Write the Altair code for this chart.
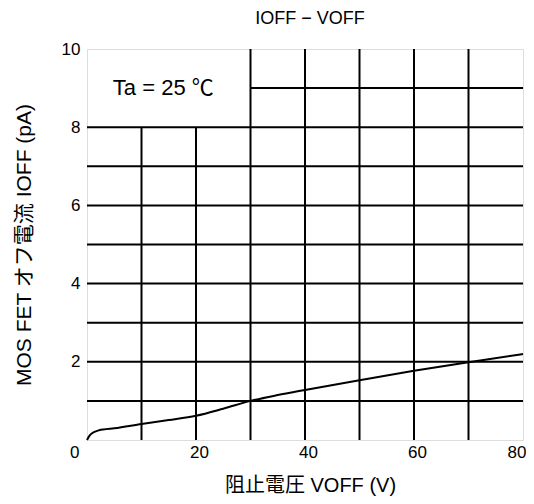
import altair as alt
import pandas as pd

# Curve data
v_off = [0, 0.5, 1, 2, 3, 5, 10, 15, 20, 25, 30, 35, 40, 50, 60, 70, 80]
i_off = [0, 0.12, 0.18, 0.24, 0.27, 0.30, 0.41, 0.51, 0.62, 0.80, 1.00, 1.15, 1.28, 1.53, 1.77, 1.99, 2.20]

x_ticks = [0, 20, 40, 60, 80]
y_ticks = [2, 4, 6, 8, 10]

# grid lines (data units)
vgrid_x = [10, 20, 30, 40, 50, 60, 70]
vgrid_top = [8, 8, 10, 10, 10, 10, 10]
hgrid_y = [1, 2, 3, 4, 5, 6, 7, 8, 9]
hgrid_left = [0, 0, 0, 0, 0, 0, 0, 0, 30]

box_text = ["Ta = 25 ℃"]

FONT = "Liberation Sans, Arial, Noto Sans CJK JP"

curve = pd.DataFrame({"v": v_off, "i": i_off})
vg = pd.DataFrame({"x": vgrid_x, "y": [0] * len(vgrid_x), "y2": vgrid_top})
hg = pd.DataFrame({"y": hgrid_y, "x": hgrid_left, "x2": [80] * len(hgrid_y)})
label = pd.DataFrame({"x": [14], "y": [9], "t": box_text})

xs = alt.Scale(domain=[0, 80], nice=False, zero=False)
ys = alt.Scale(domain=[0, 10], nice=False, zero=False)

xaxis = alt.Axis(
    values=x_ticks, grid=False, ticks=False, domain=False,
    labelFont=FONT, labelFontSize=17, labelColor="black", labelPadding=4,
    labelAlign={"condition": {"test": "datum.value === 0 || datum.value === 80", "value": "right"},
                "value": "center"},
    labelOffset={"condition": {"test": "datum.value === 0", "value": -8}, "value": 3},
    title="阻止電圧  VOFF (V)", titleFont=FONT, titleFontSize=20, titleFontWeight="normal",
    titleColor="black", titlePadding=15, titleX=223,
)
yaxis = alt.Axis(
    values=y_ticks, grid=False, ticks=False, domain=False,
    labelFont=FONT, labelFontSize=17, labelColor="black", labelPadding=7,
    title="MOS FET オフ電流  IOFF (pA)", titleFont=FONT, titleFontSize=21,
    titleFontWeight="normal", titleColor="black", titlePadding=27,
)

base_x = alt.X("x:Q", scale=xs, axis=xaxis)
base_y = alt.Y("y:Q", scale=ys, axis=yaxis)

vlines = alt.Chart(vg).mark_rule(color="black", strokeWidth=2).encode(
    x=base_x, y=base_y, y2="y2:Q"
)
hlines = alt.Chart(hg).mark_rule(color="black", strokeWidth=2).encode(
    x=alt.X("x:Q", scale=xs), x2="x2:Q", y=alt.Y("y:Q", scale=ys)
)
line = alt.Chart(curve).mark_line(color="black", strokeWidth=2, interpolate="monotone").encode(
    x=alt.X("v:Q", scale=xs), y=alt.Y("i:Q", scale=ys)
)
txt = alt.Chart(label).mark_text(font=FONT, fontSize=22, color="black").encode(
    x=alt.X("x:Q", scale=xs), y=alt.Y("y:Q", scale=ys), text="t:N"
)

chart = alt.layer(vlines, hlines, line, txt).properties(
    width=436, height=391,
    title=alt.TitleParams("IOFF − VOFF", font=FONT, fontSize=18, fontWeight="normal",
                          color="black", offset=12, anchor="middle", dx=5),
    autosize=alt.AutoSizeParams(type="none"),
    padding={"left": 79, "top": 41, "right": 3, "bottom": 56},
).configure_view(stroke="black", strokeWidth=2).configure(background="white")

chart.save("out.html", embed_options={"renderer": "svg", "actions": False})
